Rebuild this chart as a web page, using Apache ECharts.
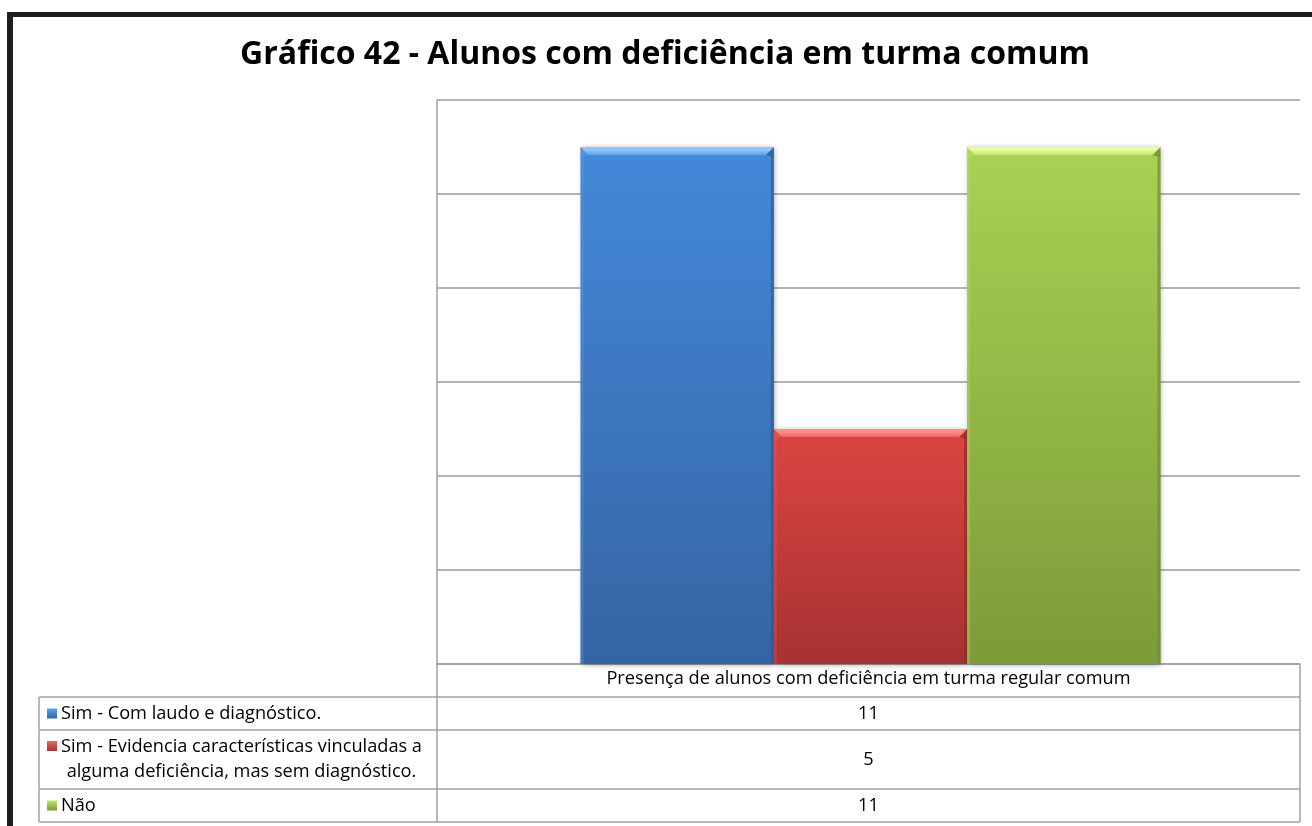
<!DOCTYPE html>
<html>
<head>
<meta charset="utf-8">
<script src="https://cdn.jsdelivr.net/npm/echarts@6/dist/echarts.min.js"></script>
<style>
  html, body { margin: 0; padding: 0; background: #ffffff; }
  #chart { width: 1312px; height: 826px; }
</style>
</head>
<body>
<div id="chart"></div>
<script>
// Chart data
const chartTitle = 'Gráfico 42 - Alunos com deficiência em turma comum';
const categories = ['Presença de alunos com deficiência em turma regular comum'];
const seriesNames = [
  'Sim - Com laudo e diagnóstico.',
  'Sim - Evidencia características vinculadas a\nalguma deficiência, mas sem diagnóstico.',
  'Não'
];
const seriesValues = [11, 5, 11];
const axisMin = 0;
const axisMax = 12;
const axisStep = 2;

// Bar styling: body gradient, top bevel and side edges per series
const palette = [
  { top: '#4489da', bottom: '#3564a3', hi: '#8cc6ff', lo: '#5ea4ec', left: '#5b9be6', right: '#2e5c99' },
  { top: '#dc4541', bottom: '#a63232', hi: '#ff8e8a', lo: '#ee6561', left: '#e35a56', right: '#9a2c2a' },
  { top: '#a9d253', bottom: '#7c9b39', hi: '#e6ff9c', lo: '#c2e470', left: '#b5dc64', right: '#6f8b32' }
];

const FONT = '"Open Sans", "Noto Sans", sans-serif';
const TABLE_SIZE = 18.2;
const TABLE_FONT = TABLE_SIZE + 'px ' + FONT;
const GRID = { left: 437, top: 100, width: 863, height: 564 };
const TABLE_LEFT = 39;
const ROW_LINES = [697, 730, 789, 822];
const GROUP_RATIO = 0.672;
const LABEL_X = 61;

const chart = echarts.init(document.getElementById('chart'), null, { renderer: 'canvas' });

const measureCtx = document.createElement('canvas').getContext('2d');
function textWidth(str, font) {
  measureCtx.font = font;
  return measureCtx.measureText(str).width;
}

function renderBar(params, api) {
  const i = params.seriesIndex;
  const v = api.value(1);
  const base = api.coord([api.value(0), 0]);
  const top = api.coord([api.value(0), v]);
  const band = api.size([1, 0])[0];
  const groupW = band * GROUP_RATIO;
  const w = groupW / seriesValues.length;
  const x0 = base[0] - groupW / 2 + i * w + 2;
  const x1 = x0 + w;
  const yt = top[1];
  const yb = base[1];
  const h = yb - yt;
  const p = palette[i];
  const b = 8;
  const e = 3;
  return {
    type: 'group',
    children: [
      {
        type: 'rect',
        shape: { x: x0, y: yt, width: w, height: h },
        style: {
          fill: new echarts.graphic.LinearGradient(0, 0, 0, 1, [
            { offset: 0, color: p.top },
            { offset: 1, color: p.bottom }
          ]),
          shadowBlur: 5,
          shadowColor: 'rgba(0,0,0,0.35)',
          shadowOffsetX: 1,
          shadowOffsetY: 1
        }
      },
      {
        type: 'polygon',
        shape: { points: [[x0, yt + b], [x0 + e, yt + b], [x0 + e, yb], [x0, yb]] },
        style: { fill: p.left, opacity: 0.35 }
      },
      {
        type: 'polygon',
        shape: { points: [[x1 - e, yt + b], [x1, yt + b], [x1, yb], [x1 - e, yb]] },
        style: { fill: p.right, opacity: 0.7 }
      },
      {
        type: 'polygon',
        shape: { points: [[x0, yt], [x0 + b, yt + b], [x0, yt + b + 2]] },
        style: { fill: p.left, opacity: 0.6 }
      },
      {
        type: 'polygon',
        shape: { points: [[x1, yt], [x1, yt + b + 2], [x1 - b, yt + b]] },
        style: { fill: p.right, opacity: 0.8 }
      },
      {
        type: 'polygon',
        shape: { points: [[x0, yt], [x1, yt], [x1 - b, yt + b], [x0 + b, yt + b]] },
        style: {
          fill: new echarts.graphic.LinearGradient(0, 0, 0, 1, [
            { offset: 0, color: p.hi },
            { offset: 0.35, color: p.hi },
            { offset: 1, color: p.lo }
          ])
        }
      }
    ]
  };
}

// Data table drawn beneath the plot
const graphics = [];
const lineStyle = { stroke: '#a0a0a0', lineWidth: 1.5 };
function hLine(y, x1, x2) {
  graphics.push({ type: 'line', silent: true, shape: { x1: x1, y1: y, x2: x2, y2: y }, style: lineStyle, z: 5 });
}
function vLine(x, y1, y2) {
  graphics.push({ type: 'line', silent: true, shape: { x1: x, y1: y1, x2: x, y2: y2 }, style: lineStyle, z: 5 });
}
const gridRight = GRID.left + GRID.width;
const gridBottom = GRID.top + GRID.height;
ROW_LINES.forEach(y => hLine(y, TABLE_LEFT, gridRight));
vLine(TABLE_LEFT, ROW_LINES[0], ROW_LINES[ROW_LINES.length - 1]);
vLine(GRID.left, gridBottom, ROW_LINES[ROW_LINES.length - 1]);
vLine(gridRight, gridBottom, ROW_LINES[ROW_LINES.length - 1]);

function swatch(i, cy) {
  const p = palette[i];
  return {
    type: 'rect', shape: { x: 47, y: cy - 5, width: 10, height: 10 },
    style: {
      fill: new echarts.graphic.LinearGradient(0, 0, 0, 1, [
        { offset: 0, color: p.lo }, { offset: 1, color: p.bottom }
      ])
    }, z: 6
  };
}

const valueColX = (GRID.left + gridRight) / 2;
seriesNames.forEach((name, i) => {
  const yTop = ROW_LINES[i];
  const yBot = ROW_LINES[i + 1];
  const yMid = (yTop + yBot) / 2;
  const lines = name.split('\n');
  if (lines.length === 1) {
    graphics.push(swatch(i, yMid));
    graphics.push({
      type: 'text', x: LABEL_X, y: yMid,
      style: { text: name, font: TABLE_FONT, fill: '#000', align: 'left', verticalAlign: 'middle' }, z: 6
    });
  } else {
    // wrapped entry: first line follows the swatch, the rest is centred under it
    const lh = 25;
    const firstW = textWidth(lines[0], TABLE_FONT);
    const cx = LABEL_X + firstW / 2;
    graphics.push(swatch(i, yMid - lh / 2 - 1));
    graphics.push({
      type: 'text', x: cx, y: yMid,
      style: { text: name, font: TABLE_FONT, fill: '#000', align: 'center', verticalAlign: 'middle', lineHeight: lh }, z: 6
    });
  }
  graphics.push({
    type: 'text', x: valueColX, y: yMid,
    style: { text: String(seriesValues[i]), font: TABLE_FONT, fill: '#000', align: 'center', verticalAlign: 'middle' }, z: 6
  });
});

// Frame edges and title
graphics.push({ type: 'rect', silent: true, shape: { x: 7, y: 12, width: 6, height: 814 }, style: { fill: '#1f1f1f' }, z: 10 });
graphics.push({ type: 'rect', silent: true, shape: { x: 7, y: 12, width: 1305, height: 5 }, style: { fill: '#1f1f1f' }, z: 10 });
graphics.push({
  type: 'text', x: 665, y: 55,
  style: { text: chartTitle, font: 'bold 32px ' + FONT, fill: '#000', align: 'center', verticalAlign: 'middle' }, z: 10
});

const option = {
  backgroundColor: '#ffffff',
  animation: false,
  grid: { left: GRID.left, top: GRID.top, width: GRID.width, height: GRID.height, containLabel: false },
  xAxis: {
    type: 'category',
    data: categories,
    axisLine: { show: true, lineStyle: { color: '#a0a0a0', width: 1.5 } },
    axisTick: { show: false },
    axisLabel: { color: '#000', fontFamily: FONT, fontSize: TABLE_SIZE, margin: 6 },
    splitLine: { show: false }
  },
  yAxis: {
    type: 'value',
    min: axisMin,
    max: axisMax,
    interval: axisStep,
    axisLine: { show: true, lineStyle: { color: '#a0a0a0', width: 1.5 } },
    axisTick: { show: false },
    axisLabel: { show: false },
    splitLine: { show: true, lineStyle: { color: '#9a9a9a', width: 1.5 } }
  },
  series: seriesNames.map((name, i) => ({
    type: 'custom',
    name: name,
    renderItem: renderBar,
    encode: { x: 0, y: 1 },
    data: [[0, seriesValues[i]]],
    z: 3
  })),
  graphic: graphics
};

chart.setOption(option);
</script>
</body>
</html>
